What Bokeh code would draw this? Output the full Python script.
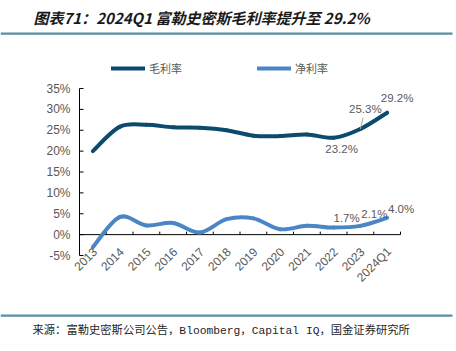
import math
from bokeh.plotting import figure
from bokeh.models import (Range1d, Label, LabelSet, Legend, LegendItem,
                          BoxAnnotation, ColumnDataSource)
from bokeh.core.properties import value
from bokeh.embed import file_html
from bokeh.resources import INLINE

categories = ["2013", "2014", "2015", "2016", "2017", "2018", "2019",
              "2020", "2021", "2022", "2023", "2024Q1"]
gross_margin = [20.0, 25.8, 26.3, 25.7, 25.6, 25.0, 23.7, 23.6, 24.0, 23.2, 25.3, 29.2]
net_margin = [-3.0, 4.2, 2.2, 2.8, 0.5, 3.7, 3.9, 1.3, 2.1, 1.7, 2.1, 4.0]
y_ticks = [-5, 0, 5, 10, 15, 20, 25, 30, 35]
y_tick_labels = [f"{t}%" for t in y_ticks]

title_text = "图表71：2024Q1 富勒史密斯毛利率提升至 29.2%"
source_text = "来源：富勒史密斯公司公告，Bloomberg，Capital IQ，国金证券研究所"
legend_labels = ["毛利率", "净利率"]

DARK = "#0c4a6e"
LIGHT = "#4a86c6"
GREY = "#595959"
RULE = "#5b8ca8"
CJK = "Noto Sans CJK SC"
LAT = "Liberation Sans"

W, H = 456, 351
# plot-area placement (canvas pixels)
PA_LEFT, PA_TOP, PA_BOTTOM = 79, 88, 255
PX_PER_CAT = 26.75

n = len(categories)
xs = list(range(n))
y_lo, y_hi = y_ticks[0], y_ticks[-1]
px_per_unit = (PA_BOTTOM - PA_TOP) / (y_hi - y_lo)
x_start = -0.5 - PA_LEFT / PX_PER_CAT
x_end = -0.5 + (W - PA_LEFT) / PX_PER_CAT
y_start = y_lo - (H - PA_BOTTOM) / px_per_unit
y_end = y_lo + PA_BOTTOM / px_per_unit

p = figure(width=W, height=H, output_backend="svg", toolbar_location=None,
           x_range=Range1d(x_start, x_end), y_range=Range1d(y_start, y_end),
           min_border=0, min_border_left=0, min_border_right=0,
           min_border_top=0, min_border_bottom=0)
p.axis.visible = False
p.grid.visible = False
p.outline_line_color = None
p.background_fill_color = "white"
p.border_fill_color = "white"


def smooth_segments(xv, yv):
    m = len(xv)
    out = dict(x0=[], y0=[], x1=[], y1=[], cx0=[], cy0=[], cx1=[], cy1=[])
    for i in range(m - 1):
        p0 = (xv[max(i - 1, 0)], yv[max(i - 1, 0)])
        p1 = (xv[i], yv[i])
        p2 = (xv[i + 1], yv[i + 1])
        p3 = (xv[min(i + 2, m - 1)], yv[min(i + 2, m - 1)])
        out["x0"].append(p1[0]); out["y0"].append(p1[1])
        out["x1"].append(p2[0]); out["y1"].append(p2[1])
        out["cx0"].append(p1[0] + (p2[0] - p0[0]) / 6)
        out["cy0"].append(p1[1] + (p2[1] - p0[1]) / 6)
        out["cx1"].append(p2[0] - (p3[0] - p1[0]) / 6)
        out["cy1"].append(p2[1] - (p3[1] - p1[1]) / 6)
    return ColumnDataSource(out)


# ---- y axis (line, inward ticks, labels)
ax_x = -0.5
p.segment(x0=[ax_x], y0=[y_lo], x1=[ax_x], y1=[y_hi], line_color="black", line_width=1)
p.segment(x0=[ax_x] * len(y_ticks), y0=y_ticks,
          x1=[ax_x + 4 / PX_PER_CAT] * len(y_ticks), y1=y_ticks,
          line_color="black", line_width=1)
p.add_layout(LabelSet(x="x", y="y", text="t",
                      source=ColumnDataSource(dict(x=[ax_x] * len(y_ticks), y=y_ticks,
                                                   t=y_tick_labels)),
                      x_offset=-9, text_align="right", text_baseline="middle",
                      text_color=GREY, text_font=value(LAT), text_font_size="12px"))

# ---- category axis at 0 with small upward ticks at boundaries
p.segment(x0=[-0.5], y0=[0], x1=[n - 0.5], y1=[0], line_color="black", line_width=1)
bounds = [i + 0.5 for i in xs]
p.segment(x0=bounds, y0=[0] * n, x1=bounds, y1=[3 / px_per_unit] * n,
          line_color="black", line_width=1)
p.add_layout(LabelSet(x="x", y="y", text="t",
                      source=ColumnDataSource(dict(x=xs, y=[y_lo] * n, t=categories)),
                      angle=math.pi / 4, x_offset=2, y_offset=6,
                      text_align="right", text_baseline="middle",
                      text_color=GREY, text_font=value(LAT), text_font_size="12px"))

# ---- smoothed lines
r_g = p.bezier("x0", "y0", "x1", "y1", "cx0", "cy0", "cx1", "cy1",
               source=smooth_segments(xs, gross_margin), line_color=DARK,
               line_width=4, line_cap="round")
r_n = p.bezier("x0", "y0", "x1", "y1", "cx0", "cy0", "cx1", "cy1",
               source=smooth_segments(xs, net_margin), line_color=LIGHT,
               line_width=4, line_cap="round")


def add_label(i, vals, dx, dy):
    p.add_layout(Label(x=xs[i], y=vals[i], text=f"{vals[i]:.1f}%", x_offset=dx, y_offset=dy,
                       text_align="center", text_baseline="middle",
                       text_color=GREY, text_font=LAT, text_font_size="11.5px"))


add_label(11, gross_margin, 10, 15)
add_label(10, gross_margin, 5, 20)
add_label(9, gross_margin, 8, -11)
add_label(9, net_margin, 13, 10)
add_label(10, net_margin, 14, 12)
add_label(11, net_margin, 14, 9)
# leader line for the 2023 gross-margin label
p.segment(x0=[xs[10]], y0=[gross_margin[10]], x1=[xs[10] + 0.1], y1=[gross_margin[10] + 2.7],
          line_color="#a6a6a6", line_width=1)

# ---- legend
legend = Legend(items=[LegendItem(label=legend_labels[0], renderers=[r_g]),
                       LegendItem(label=legend_labels[1], renderers=[r_n])],
                orientation="horizontal", location=(111, H - 76),
                spacing=75, glyph_width=34, glyph_height=10, label_standoff=4,
                label_height=14, label_text_font=CJK, label_text_font_size="11px",
                label_text_color=GREY, padding=0, margin=0, border_line_color=None,
                background_fill_alpha=0)
p.add_layout(legend)

# ---- title, rules, source (screen units, measured from the bottom-left)
p.add_layout(Label(x=33, y=H - 17, x_units="screen", y_units="screen", text=title_text,
                   text_font=CJK, text_font_size="15px", text_font_style="bold italic",
                   text_color="#1a1a1a", text_baseline="middle"))
for top_px in (32, 314):
    p.add_layout(BoxAnnotation(left=0, right=452, top=H - top_px, bottom=H - top_px - 2.2,
                               left_units="screen", right_units="screen",
                               top_units="screen", bottom_units="screen",
                               fill_color=RULE, fill_alpha=1, line_color=None))
p.add_layout(Label(x=32, y=H - 330, x_units="screen", y_units="screen", text=source_text,
                   text_font="'Liberation Mono', 'Noto Sans CJK SC'",
                   text_font_size="11.3px", text_color="#262626", text_baseline="middle"))

open("out.html", "w").write(file_html(p, INLINE))
